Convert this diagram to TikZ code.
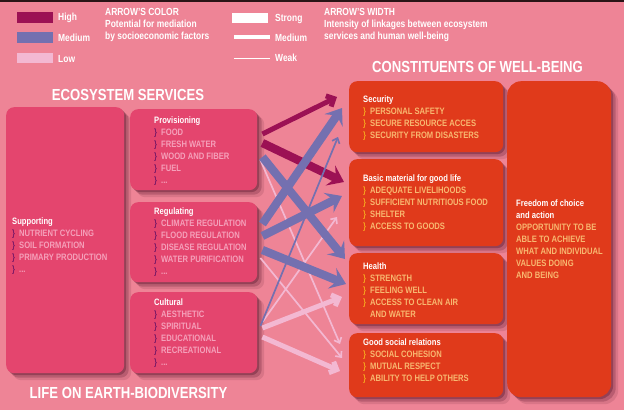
\documentclass[tikz,border=0pt]{standalone}
\usepackage{fontspec}
\setmainfont{Liberation Sans}[FakeStretch=0.82]
\usetikzlibrary{arrows.meta,shadows,calc}
\definecolor{bgc}{HTML}{EE8496}
\definecolor{lboxc}{HTML}{E4456E}
\definecolor{rboxc}{HTML}{E03A1B}
\definecolor{highc}{HTML}{9C1154}
\definecolor{medc}{HTML}{7470B0}
\definecolor{lowc}{HTML}{F3B8D2}
\definecolor{shadowc}{HTML}{5E1A30}
\definecolor{ltxt}{HTML}{F5A0BA}
\definecolor{rtxt}{HTML}{F8B870}
\definecolor{lbulc}{HTML}{7E1A66}
\definecolor{rbulc}{HTML}{F5A21E}
\definecolor{topc}{HTML}{2A1416}
\newcommand\bulL{{\color{lbulc}\}}\hspace{4pt}}
\newcommand\bulR{{\color{rbulc}\}}\hspace{4pt}}
\newcommand\indR{\hphantom{\}}\hspace{4pt}}
\newcommand\hdw[1]{\textcolor{white}{#1}}
\begin{document}
\begin{tikzpicture}[x=1pt,y=-1pt,
  bshadow/.style={
    drop shadow={shadow xshift=2pt,shadow yshift=-2pt,opacity=.4,fill=shadowc},
    drop shadow={shadow xshift=4.5pt,shadow yshift=-4.5pt,opacity=.26,fill=shadowc},
    drop shadow={shadow xshift=7pt,shadow yshift=-7pt,opacity=.14,fill=shadowc}},
  lbox/.style={bshadow, fill=lboxc, rounded corners=8pt, inner sep=0pt, anchor=north west},
  rbox/.style={bshadow, fill=rboxc, rounded corners=8pt, inner sep=0pt, anchor=north west},
  ltext/.style={anchor=west, align=left, inner sep=0pt, text=ltxt,
    font=\bfseries\fontsize{9.3}{12}\selectfont},
  rtext/.style={anchor=west, align=left, inner sep=0pt, text=rtxt,
    font=\bfseries\fontsize{9.3}{12}\selectfont},
  titletext/.style={text=white, inner sep=0pt, font=\bfseries\fontsize{16}{18}\selectfont},
  legtext/.style={text=white, anchor=west, align=left, inner sep=0pt,
    font=\bfseries\fontsize{10.3}{12}\selectfont},
  strongarrow/.style={line width=8.3pt, -{Stealth[length=15pt,width=22pt,inset=6pt]}},
  mediumarrow/.style={line width=5pt, -{Straight Barb[length=6pt,width=12pt]}},
  weakarrow/.style={line width=1.7pt, -{Straight Barb[length=4.5pt,width=8pt]}},
]
\useasboundingbox (0,0) rectangle (624,410);
\fill[bgc] (0,0) rectangle (624,410);
\fill[topc] (0,0) rectangle (624,2);

% ---------- legend ----------
\fill[highc] (17,12) rectangle (53,23);
\fill[medc] (17,32) rectangle (53,43);
\fill[lowc] (17,53) rectangle (53,63);
\node[legtext] (lhigh) at (58,18) {High};
\node[legtext] (lmed) at (58,37.5) {Medium};
\node[legtext] (llow) at (58,59) {Low};
\node[legtext] (lcol) at (105,24.5) {ARROW'S COLOR\\Potential for mediation\\by socioeconomic factors};
\fill[white] (232,12.5) rectangle (268,23);
\draw[white, line width=4.5pt] (234,37) -- (270,37);
\draw[white, line width=1.8pt] (234,58.5) -- (270,58.5);
\node[legtext] (lstrong) at (275,18.5) {Strong};
\node[legtext] (lmedw) at (275,37.5) {Medium};
\node[legtext] (lweak) at (275,58) {Weak};
\node[legtext] (lwid) at (324,24.5) {ARROW'S WIDTH\\Intensity of linkages between ecosystem\\services and human well-being};

% ---------- titles ----------
\node[titletext] (ecot) at (128,95) {ECOSYSTEM SERVICES};
\node[titletext] (cwbt) at (477.5,67) {CONSTITUENTS OF WELL-BEING};
\node[titletext] (lifet) at (128.5,393) {LIFE ON EARTH-BIODIVERSITY};

% ---------- left boxes ----------
\node[lbox, minimum width=118pt, minimum height=266pt] (sup) at (6,107) {};
\node[lbox, minimum width=127pt, minimum height=81pt] (prov) at (130,109) {};
\node[lbox, minimum width=127pt, minimum height=80pt] (reg) at (130,202) {};
\node[lbox, minimum width=127pt, minimum height=81pt] (cult) at (130,292) {};

\node[ltext] (supt) at ($(sup.west)+(6,6)$) {\hdw{Supporting}\\\bulL NUTRIENT CYCLING\\\bulL SOIL FORMATION\\\bulL PRIMARY PRODUCTION\\\bulL ...};
\node[ltext] (provt) at ($(prov.west)+(24,1.5)$) {\hdw{Provisioning}\\\bulL FOOD\\\bulL FRESH WATER\\\bulL WOOD AND FIBER\\\bulL FUEL\\\bulL ...};
\node[ltext] (regt) at ($(reg.west)+(24,0)$) {\hdw{Regulating}\\\bulL CLIMATE REGULATION\\\bulL FLOOD REGULATION\\\bulL DISEASE REGULATION\\\bulL WATER PURIFICATION\\\bulL ...};
\node[ltext] (cultt) at ($(cult.west)+(24,0.5)$) {\hdw{Cultural}\\\bulL AESTHETIC\\\bulL SPIRITUAL\\\bulL EDUCATIONAL\\\bulL RECREATIONAL\\\bulL ...};

% ---------- right boxes ----------
\node[rbox, minimum width=154pt, minimum height=71pt] (sec) at (349,81) {};
\node[rbox, minimum width=154pt, minimum height=87pt] (basic) at (349,159) {};
\node[rbox, minimum width=154pt, minimum height=71pt] (health) at (349,253) {};
\node[rbox, minimum width=154pt, minimum height=64pt] (social) at (349,333) {};
\node[rbox, rounded corners=14pt, minimum width=104pt, minimum height=316pt] (freedom) at (507,81) {};

\node[rtext] (sect) at ($(sec.west)+(14,1)$) {\hdw{Security}\\\bulR PERSONAL SAFETY\\\bulR SECURE RESOURCE ACCES\\\bulR SECURITY FROM DISASTERS};
\node[rtext] (basict) at ($(basic.west)+(14,0)$) {\hdw{Basic material for good life}\\\bulR ADEQUATE LIVELIHOODS\\\bulR SUFFICIENT NUTRITIOUS FOOD\\\bulR SHELTER\\\bulR ACCESS TO GOODS};
\node[rtext] (healtht) at ($(health.west)+(14,1.5)$) {\hdw{Health}\\\bulR STRENGTH\\\bulR FEELING WELL\\\bulR ACCESS TO CLEAN AIR\\\indR AND WATER};
\node[rtext] (socialt) at ($(social.west)+(14,-4.5)$) {\hdw{Good social relations}\\\bulR SOCIAL COHESION\\\bulR MUTUAL RESPECT\\\bulR ABILITY TO HELP OTHERS};
\node[rtext] (freedomt) at ($(freedom.west)+(9,0)$) {\hdw{Freedom of choice}\\\hdw{and action}\\OPPORTUNITY TO BE\\ABLE TO ACHIEVE\\WHAT AND INDIVIDUAL\\VALUES DOING\\AND BEING};

% ---------- arrows: low ----------
\draw[weakarrow, lowc] ($(prov.north east)+(3,51)$) -- ($(social.north west)+(-9,11)$);
\draw[weakarrow, lowc] ($(reg.north east)+(3,56)$) -- ($(social.north west)+(-7,25)$);
\draw[weakarrow, lowc] ($(cult.north east)+(5,30)$) -- ($(basic.north west)+(-12,58)$);
\draw[mediumarrow, lowc] ($(cult.north east)+(5,36)$) -- ($(health.north west)+(-7,44)$);
\draw[mediumarrow, lowc] ($(cult.north east)+(5,45)$) -- ($(social.north west)+(-9,38)$);
% ---------- arrows: high ----------
\draw[mediumarrow, highc] ($(prov.north east)+(5,25)$) -- ($(sec.north west)+(-12,16)$);
\draw[strongarrow, highc] ($(prov.north east)+(5,34)$) -- ($(basic.north west)+(-5,23)$);
% ---------- arrows: medium ----------
\draw[weakarrow, medc] ($(cult.north east)+(3,34)$) -- ($(sec.north west)+(-11,56)$);
\draw[strongarrow, medc] ($(prov.north east)+(5,48)$) -- ($(health.north west)+(-4,6)$);
\draw[strongarrow, medc] ($(reg.north east)+(5,22)$) -- ($(sec.north west)+(-7,27)$);
\draw[strongarrow, medc] ($(reg.north east)+(5,34)$) -- ($(basic.north west)+(-7,37)$);
\draw[strongarrow, medc] ($(reg.north east)+(5,48)$) -- ($(health.north west)+(-3,31)$);
\end{tikzpicture}
\end{document}
